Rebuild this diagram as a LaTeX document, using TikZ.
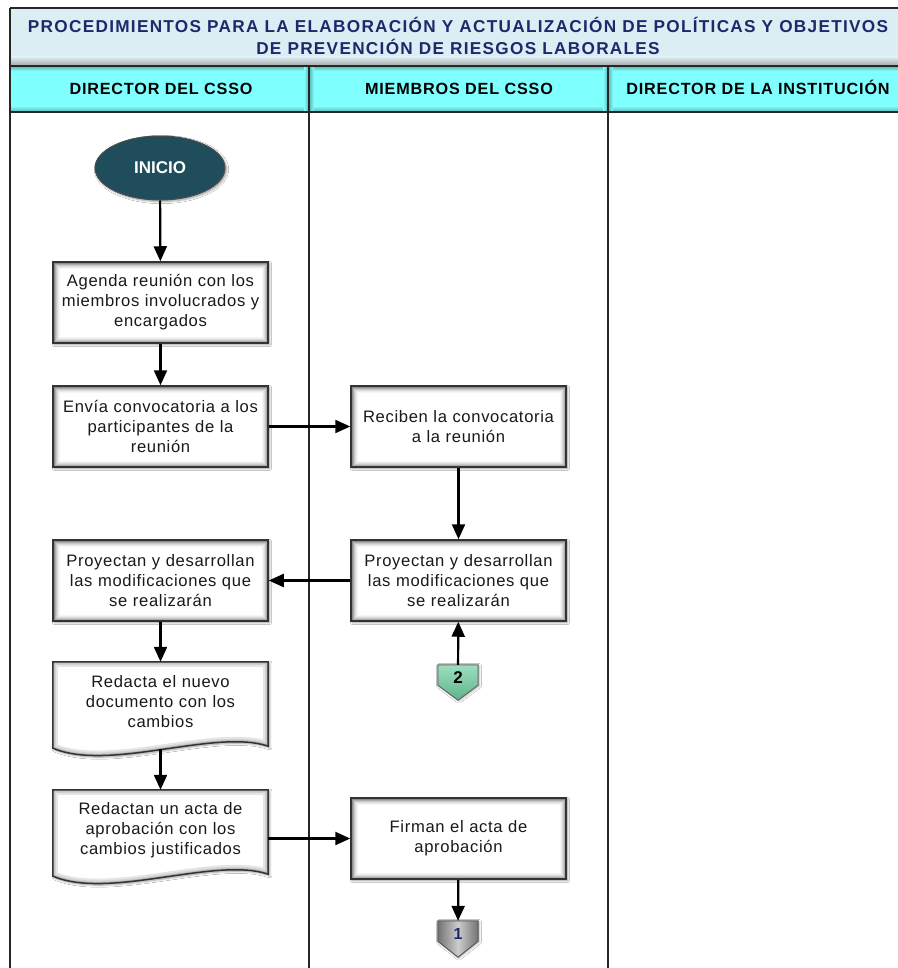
\documentclass[tikz,border=0pt]{standalone}
\usepackage{fontspec}
\setmainfont{Liberation Sans}
\usetikzlibrary{arrows.meta,shadows.blur,shapes.geometric}

\definecolor{titlebg}{HTML}{DCEDF3}
\definecolor{titletxt}{HTML}{1C2A6B}
\definecolor{headbg}{HTML}{80FFFF}
\definecolor{startfill}{HTML}{1F4D5C}
\definecolor{boxline}{HTML}{333333}
\definecolor{connmid}{HTML}{9CDFBE}
\definecolor{connedge}{HTML}{5FB48C}

% outline of a document symbol built on a named node
\newcommand\docoutline[1]{(#1.north west) -- (#1.north east) -- ([yshift=-4pt]#1.south east)
  .. controls ([shift={(-53pt,14pt)}]#1.south east) and ([shift={(57pt,-30pt)}]#1.south west)
  .. ([yshift=-6pt]#1.south west) -- cycle}
% outline of an off-page connector built on a named node
\newcommand\offpage[2]{(#1.north west) -- (#1.north east) -- ([yshift=4pt]#1.south east)
  -- ([yshift=-#2]#1.south) -- ([yshift=4pt]#1.south west) -- cycle}

\tikzset{
  frame/.style={line width=2pt, black!85},
  boxtext/.style={font=\fontsize{16.6}{20}\selectfont\addfontfeature{LetterSpace=4}, text=black!90, align=center},
  procbox/.style={boxtext, rectangle, minimum width=215pt, minimum height=81pt, inner sep=0pt,
    text width=209pt, fill=white, draw=boxline, line width=1.5pt,
    blur shadow={shadow xshift=1.5pt, shadow yshift=-1.5pt, shadow blur steps=6, shadow opacity=40},
    path picture={
      \foreach \i/\c in {1/45,2/32,3/22,4/14,5/8,6/4}{
        \draw[black!\c, line width=1pt]
          ([shift={(\i pt,-\i pt)}]path picture bounding box.north west) rectangle
          ([shift={(-\i pt,\i pt)}]path picture bounding box.south east);}}},
  doctext/.style={boxtext, rectangle, minimum width=215pt, minimum height=80pt, inner sep=0pt, text width=209pt},
  headtext/.style={font=\fontsize{16.2}{19}\selectfont\bfseries\addfontfeature{LetterSpace=5}, text=black,
    text height=12pt, text depth=0pt},
  arr/.style={line width=2.2pt, black, -{Triangle[width=13pt,length=15pt]}},
  offshadow/.style={blur shadow={shadow xshift=1pt, shadow yshift=-1pt, shadow blur steps=4, shadow opacity=30}},
}

\begin{document}
\begin{tikzpicture}[x=1pt,y=-1pt]
\useasboundingbox (0,0) rectangle (897,968);
\fill[white] (0,0) rectangle (897,968);

% title band and lane headers
\fill[titlebg] (10,8) rectangle (912,66);
\shade[top color=titlebg, bottom color=black!35] (10,57) rectangle (912,66);
\fill[headbg] (10,66) rectangle (912,112);
\shade[top color=headbg, bottom color=headbg!70!black] (10,106) rectangle (912,112);
\shade[top color=headbg!70!black, bottom color=headbg] (10,66) rectangle (912,71);
\foreach \x in {309,608}{
  \shade[left color=headbg, right color=headbg!70!black] (\x-5,66) rectangle (\x,112);
  \shade[left color=headbg!70!black, right color=headbg] (\x,66) rectangle (\x+5,112);}

\draw[frame] (10,8) -- (912,8);
\draw[frame] (10,66) -- (912,66);
\draw[frame] (10,112) -- (912,112);
\draw[frame] (10,8) -- (10,968);
\draw[frame] (309,66) -- (309,968);
\draw[frame] (608,66) -- (608,968);

\node[font=\fontsize{17.2}{22}\selectfont\bfseries\addfontfeature{LetterSpace=7.5}, text=titletxt, align=center]
  (title) at (458,36) {PROCEDIMIENTOS PARA LA ELABORACIÓN Y ACTUALIZACIÓN DE POLÍTICAS Y OBJETIVOS\\DE PREVENCIÓN DE RIESGOS LABORALES};

\node[headtext] (lane1) at (161,89) {DIRECTOR DEL CSSO};
\node[headtext] (lane2) at (459,89) {MIEMBROS DEL CSSO};
\node[headtext] (lane3) at (758,89) {DIRECTOR DE LA INSTITUCIÓN};

% start terminal
\node[ellipse, minimum width=130pt, minimum height=64pt, fill=startfill, draw=black!70, line width=1pt,
  text=white, font=\fontsize{17}{18}\selectfont\bfseries,
  blur shadow={shadow xshift=1.5pt, shadow yshift=-1.5pt, shadow blur steps=6, shadow opacity=40}]
  (inicio) at (160,168) {INICIO};

% process boxes
\node[procbox] (agenda) at (160.5,302.5) {Agenda reunión con los\\miembros involucrados y\\encargados};
\node[procbox] (envia) at (160.5,426.5) {Envía convocatoria a los\\participantes de la\\reunión};
\node[procbox] (reciben) at (458.5,426.5) {Reciben la convocatoria\\a la reunión};
\node[procbox] (proyM) at (458.5,580.5) {Proyectan y desarrollan\\las modificaciones que\\se realizarán};
\node[procbox] (proyD) at (160.5,580.5) {Proyectan y desarrollan\\las modificaciones que\\se realizarán};
\node[procbox] (firman) at (458.5,838.5) {Firman el acta de\\aprobación};

% document symbols
\node[doctext] (redacta) at (160.5,702) {};
\node[doctext] (acta) at (160.5,830) {};
\foreach \d in {redacta,acta}{
  \fill[white, blur shadow={shadow xshift=1.5pt, shadow yshift=-1.5pt, shadow blur steps=6, shadow opacity=40}] \docoutline{\d};
  \begin{scope}
    \clip \docoutline{\d};
    \draw[black!10, line width=10pt] \docoutline{\d};
    \draw[black!18, line width=6pt] \docoutline{\d};
    \draw[black!30, line width=3pt] \docoutline{\d};
  \end{scope}
  \draw[boxline, line width=1.5pt] \docoutline{\d};
}
\node[doctext] (redactaT) at (redacta) {Redacta el nuevo\\documento con los\\cambios};
\node[doctext] (actaT) at (acta) {Redactan un acta de\\aprobación con los\\cambios justificados};
\coordinate (redactaBot) at ([yshift=-7pt]redacta.south);

% off-page connectors
\node[minimum width=40pt, minimum height=24pt, inner sep=0pt] (c2) at (458,677) {};
\shade[top color=connmid, bottom color=connedge, draw=black!60, line width=1pt, offshadow] \offpage{c2}{11pt};
\node[font=\fontsize{17}{17}\selectfont\bfseries, text=black] (c2T) at ([yshift=-1pt]c2) {2};

\node[minimum width=40pt, minimum height=24pt, inner sep=0pt] (c1) at (458,933) {};
\shade[left color=black!55, right color=black!55, middle color=black!20,
  draw=black!65, line width=1pt, offshadow] \offpage{c1}{12pt};
\node[font=\fontsize{16}{16}\selectfont\bfseries, text=titletxt] (c1T) at ([yshift=-1pt]c1) {1};

% connectors
\draw[arr] (inicio) -- (agenda);
\draw[arr] (agenda) -- (envia);
\draw[arr] (envia) -- (reciben);
\draw[arr] (reciben) -- (proyM);
\draw[arr] (proyM) -- (proyD);
\draw[arr] (c2) -- (proyM);
\draw[arr] (proyD) -- (redacta);
\draw[arr] (redactaBot) -- (acta);
\draw[arr] (acta.east |- firman.west) -- (firman);
\draw[arr] (firman) -- (c1);
\end{tikzpicture}
\end{document}
